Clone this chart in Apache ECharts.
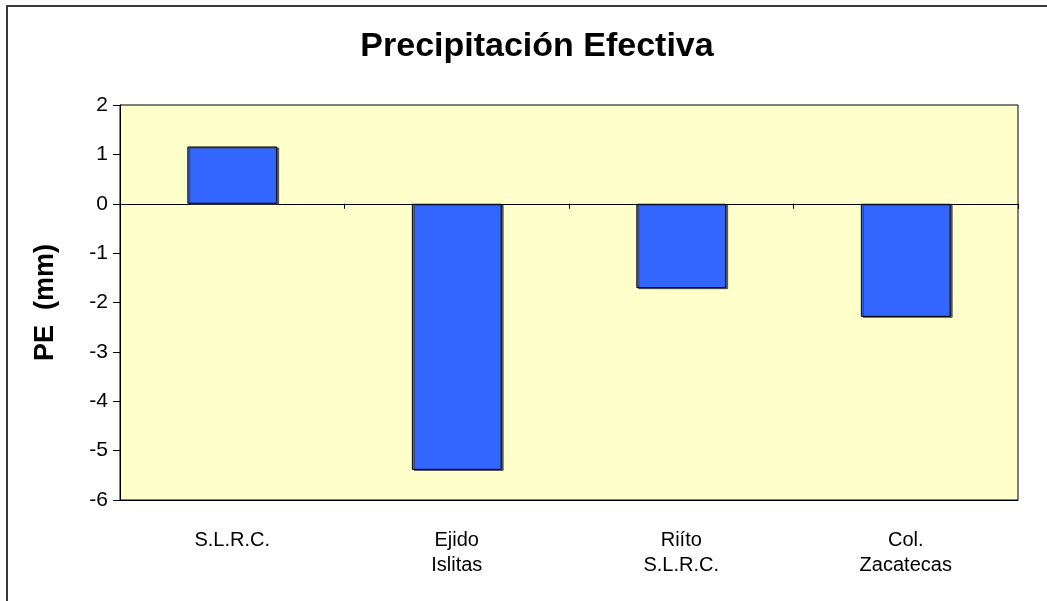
<!DOCTYPE html>
<html>
<head>
<meta charset="utf-8">
<script src="https://cdn.jsdelivr.net/npm/echarts@6/dist/echarts.min.js"></script>
<style>
  html, body { margin: 0; padding: 0; background: #fff; }
  #chart { width: 1047px; height: 601px; }
</style>
</head>
<body>
<div id="chart"></div>
<script>
// Stations and effective precipitation (mm)
var categories = ['S.L.R.C.', 'Ejido\nIslitas', 'Riíto\nS.L.R.C.', 'Col.\nZacatecas'];
var peValues = [1.16, -5.39, -1.71, -2.29];
var yTicks = { min: -6, max: 2, step: 1 };

var font = 'Arial, "Liberation Sans", sans-serif';
var chart = echarts.init(document.getElementById('chart'), null, { renderer: 'canvas' });

chart.setOption({
  backgroundColor: '#ffffff',
  animation: false,
  title: {
    text: 'Precipitación Efectiva',
    left: 532,
    top: 25,
    textAlign: 'center',
    textStyle: { fontFamily: font, fontSize: 34, fontWeight: 'bold', color: '#000' }
  },
  graphic: [{
    type: 'rect',
    shape: { x: 7, y: 6, width: 1200, height: 800 },
    style: { fill: 'none', stroke: '#3a3a3a', lineWidth: 2 },
    silent: true,
    z: 100
  }],
  grid: {
    left: 120, right: 29, top: 105, bottom: 101,
    show: true,
    backgroundColor: '#FFFFCC',
    borderColor: '#000',
    borderWidth: 1,
    containLabel: false
  },
  xAxis: [{
    type: 'category',
    data: categories,
    position: 'bottom',
    axisLine: { show: true, onZero: false, lineStyle: { color: '#000', width: 1 } },
    axisTick: { show: false },
    axisLabel: {
      interval: 0, margin: 28, color: '#000',
      fontFamily: font, fontSize: 20, lineHeight: 25, align: 'center'
    }
  }, {
    type: 'category',
    data: categories,
    position: 'bottom',
    axisLine: { show: true, onZero: true, lineStyle: { color: '#000', width: 1 } },
    axisTick: { show: true, length: 5, lineStyle: { color: '#000' } },
    axisLabel: { show: false }
  }],
  yAxis: {
    type: 'value',
    min: yTicks.min, max: yTicks.max, interval: yTicks.step,
    name: 'PE  (mm)',
    nameLocation: 'middle',
    nameRotate: 90,
    nameGap: 61,
    nameTextStyle: { fontFamily: font, fontSize: 27, fontWeight: 'bold', color: '#000' },
    axisLine: { show: true, lineStyle: { color: '#000', width: 1 } },
    axisTick: { show: true, length: 7, lineStyle: { color: '#000' } },
    axisLabel: { margin: 12, color: '#000', fontFamily: font, fontSize: 21 },
    splitLine: { show: false }
  },
  series: [{
    type: 'bar',
    xAxisIndex: 0,
    data: peValues,
    barWidth: '40%',
    itemStyle: {
      color: '#3366FF',
      borderColor: '#000',
      borderWidth: 1,
      shadowColor: 'rgba(60,60,60,0.8)',
      shadowOffsetX: 2,
      shadowOffsetY: 1,
      shadowBlur: 0
    }
  }]
});
</script>
</body>
</html>
